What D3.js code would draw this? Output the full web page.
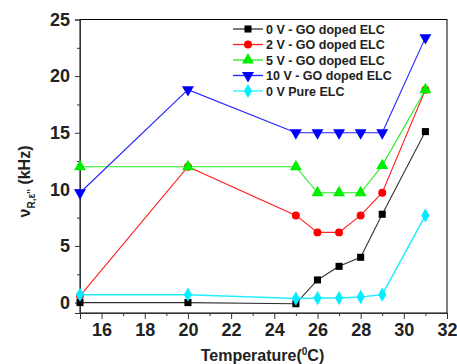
<!DOCTYPE html>
<html>
<head>
<meta charset="utf-8">
<script src="https://cdn.jsdelivr.net/npm/d3@7"></script>
<style>
  body { margin: 0; background: #fff; }
  text { font-family: "Liberation Sans", Arial, sans-serif; font-weight: bold; fill: #222; }
</style>
</head>
<body>
<div id="chart"></div>
<script>
// temperatures (°C)
const temps = [15, 20, 25, 26, 27, 28, 29, 31];

// relaxation frequency (kHz) per series
const v0GO  = [0.0, 0.0, -0.1, 2.0, 3.2, 4.0, 7.8, 15.1];
const v2GO  = [0.6, 12.0, 7.7, 6.2, 6.2, 7.7, 9.7, 18.8];
const v5GO  = [12.0, 12.0, 12.0, 9.7, 9.7, 9.7, 12.1, 18.8];
const v10GO = [9.7, 18.8, 15.0, 15.0, 15.0, 15.0, 15.0, 23.4];
const v0Pure = [0.7, 0.7, 0.35, 0.4, 0.4, 0.5, 0.7, 7.7];

const seriesNames = ["0 V - GO doped ELC", "2 V - GO doped ELC", "5 V - GO doped ELC", "10 V - GO doped ELC", "0 V Pure ELC"];
const seriesValues = [v0GO, v2GO, v5GO, v10GO, v0Pure];
const seriesColors = ["#000000", "#ff0000", "#00ee00", "#0000ff", "#00eeff"];
const lineColors = ["#333333", "#ff2020", "#22ee22", "#2020ff", "#22eeff"];
const symbols = [d3.symbolSquare, d3.symbolCircle, d3.symbolTriangle, "down", d3.symbolDiamond];

const xTicks = [16, 18, 20, 22, 24, 26, 28, 30, 32];
const yTicks = [0, 5, 10, 15, 20, 25];

const W = 457, H = 364;
const margin = {top: 19.5, right: 10, bottom: 51, left: 80};
const width = W - margin.left - margin.right;
const height = H - margin.top - margin.bottom;

const svg = d3.select("#chart").append("svg")
    .attr("width", W)
    .attr("height", H);

const g = svg.append("g")
    .attr("transform", `translate(${margin.left},${margin.top})`);

const xScale = d3.scaleLinear().domain([15, 32]).range([0, width]);
const yScale = d3.scaleLinear().domain([-0.92, 25]).range([height, 0]);

// frame
g.append("rect")
    .attr("width", width)
    .attr("height", height)
    .attr("fill", "none")
    .attr("stroke", "#000")
    .attr("stroke-width", 1);

// x axis
const xAxis = g.append("g")
    .attr("transform", `translate(0,${height})`)
    .call(d3.axisBottom(xScale).tickValues(xTicks).tickSize(6).tickPadding(4).tickFormat(d3.format("d")));
xAxis.select(".domain").attr("stroke", "#333");
xAxis.selectAll("line").attr("stroke", "#333");
xAxis.selectAll("text").attr("font-size", "18px").attr("fill", "#222")
    .style("font-family", "Liberation Sans, Arial, sans-serif").style("font-weight", "bold");
g.append("g")
    .attr("transform", `translate(0,${height})`)
    .call(d3.axisBottom(xScale).tickValues(d3.range(15, 32, 2)).tickSize(3).tickFormat(""))
    .call(s => s.select(".domain").remove())
    .selectAll("line").attr("stroke", "#333");

// y axis
const yAxis = g.append("g")
    .call(d3.axisLeft(yScale).tickValues(yTicks).tickSize(5).tickPadding(5));
yAxis.select(".domain").attr("stroke", "#333");
yAxis.selectAll("line").attr("stroke", "#333");
yAxis.selectAll("text").attr("font-size", "18px").attr("fill", "#222")
    .style("font-family", "Liberation Sans, Arial, sans-serif").style("font-weight", "bold");
g.append("g")
    .call(d3.axisLeft(yScale).tickValues(d3.range(2.5, 25, 5)).tickSize(3).tickFormat(""))
    .call(s => s.select(".domain").remove())
    .selectAll("line").attr("stroke", "#333");

// axis titles
const xTitle = svg.append("text")
    .attr("x", margin.left + width / 2 - 1)
    .attr("y", H - 3)
    .attr("text-anchor", "middle")
    .attr("font-size", "16px");
xTitle.append("tspan").text("Temperature(");
xTitle.append("tspan").attr("font-size", "10px").attr("dy", -6).text("0");
xTitle.append("tspan").attr("dy", 6).text("C)");

const yTitle = svg.append("text")
    .attr("transform", `translate(30,${margin.top + 162}) rotate(-90)`)
    .attr("text-anchor", "middle")
    .attr("font-size", "16px");
yTitle.append("tspan").text("ν");
yTitle.append("tspan").attr("font-size", "10px").attr("dy", 5).text("R,ε''");
yTitle.append("tspan").attr("dy", -5).text(" (kHz)");

function symbolPath(sym, size) {
    if (sym === "down") {
        return d3.symbol().type(d3.symbolTriangle).size(size)();
    }
    return d3.symbol().type(sym).size(size)();
}
const symbolSizes = [50, 50, 62, 62, 58];

const line = d3.line()
    .x(d => xScale(d.t))
    .y(d => yScale(d.v));

const series = seriesNames.map((name, i) => ({
    name,
    color: seriesColors[i],
    lineColor: lineColors[i],
    symbol: symbols[i],
    size: symbolSizes[i],
    points: temps.map((t, j) => ({t, v: seriesValues[i][j]}))
}));

const plot = g.append("g");
series.forEach(s => {
    plot.append("path")
        .datum(s.points)
        .attr("fill", "none")
        .attr("stroke", s.lineColor)
        .attr("stroke-width", s.name === "0 V Pure ELC" ? 1.5 : 1.1)
        .attr("d", line);
});
series.forEach(s => {
    plot.selectAll(null)
        .data(s.points)
        .join("path")
        .attr("transform", d => `translate(${xScale(d.t)},${yScale(d.v)})${s.symbol === "down" ? " rotate(180)" : ""}`)
        .attr("d", symbolPath(s.symbol, s.size))
        .attr("fill", s.color);
});

// legend
const legend = g.append("g")
    .attr("transform", `translate(${233 - margin.left},${29 - margin.top})`);
series.forEach((s, i) => {
    const row = legend.append("g").attr("transform", `translate(0,${i * 15.5})`);
    row.append("line")
        .attr("x1", 0).attr("x2", 30)
        .attr("stroke", s.lineColor)
        .attr("stroke-width", 1.3);
    row.append("path")
        .attr("transform", `translate(15,0)${s.symbol === "down" ? " rotate(180)" : ""}`)
        .attr("d", symbolPath(s.symbol, s.size))
        .attr("fill", s.color);
    row.append("text")
        .attr("x", 33)
        .attr("y", 4.5)
        .attr("font-size", "12.5px")
        .text(s.name);
});
</script>
</body>
</html>
